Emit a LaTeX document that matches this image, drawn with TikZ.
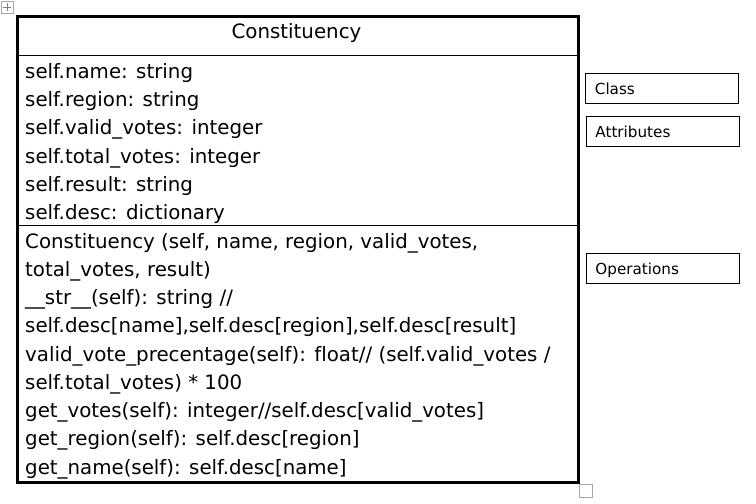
\documentclass[tikz,border=0pt]{standalone}
\usepackage{fontspec}
\setmainfont[Ligatures=NoCommon]{DejaVu Sans}
\begin{document}
\begin{tikzpicture}[x=1pt,y=-1pt,
  txt/.style={anchor=west,inner sep=0pt,font=\fontsize{19.8}{24}\selectfont},
  sidebox/.style={draw,line width=0.8pt,minimum width=153pt,minimum height=30pt,anchor=north west,inner sep=0pt,text width=143pt,text height=14.5pt,text depth=3pt,align=left,font=\fontsize{15.2}{17}\selectfont},
  thin/.style={line width=1pt},
  thick/.style={line width=3pt}]
\useasboundingbox (0,0) rectangle (756,504);
% handle icon
\node[draw=gray!70,line width=0.6pt,minimum size=12pt,inner sep=0pt,anchor=north west] (handle) at (1,1) {};
\draw[gray,line width=0.5pt] (handle.center) ++(-4,0) -- ++(8,0) (handle.center) ++(0,-4) -- ++(0,8);
% outer class box
\node[draw,thick,anchor=north west,minimum width=561pt,minimum height=466pt,inner sep=0pt] (cls) at (16,15) {};
\coordinate (d1l) at (16,55); \coordinate (d1r) at (577,55);
\coordinate (d2l) at (16,225.5); \coordinate (d2r) at (577,225.5);
\draw[thin] (d1l) -- (d1r);
\draw[thin] (d2l) -- (d2r);
\coordinate (mk1) at (579.5,228); \coordinate (mk2) at (579.5,246);
\draw[line width=0.8pt] (mk1) -- (mk2);
% resize handle
\node[draw=gray!70,line width=0.8pt,minimum size=13pt,inner sep=0pt,anchor=north west] (rs) at (579,484) {};
% header
\node[txt,anchor=center] (hdr) at (296.5,33) {Constituency};
% attributes
\node[txt] (a1) at (25,73) {self.name: string};
\node[txt] (a2) at (25,101) {self.region: string};
\node[txt] (a3) at (25,129.5) {self.valid\_votes: integer};
\node[txt] (a4) at (25,158) {self.total\_votes: integer};
\node[txt] (a5) at (25,186) {self.result: string};
\node[txt] (a6) at (25,214) {self.desc: dictionary};
% operations
\node[txt] (o1) at (25,243) {Constituency (self, name, region, valid\_votes,};
\node[txt] (o2) at (25,271.5) {total\_votes, result)};
\node[txt] (o3) at (25,299.5) {\_\_str\_\_(self): string //};
\node[txt] (o4) at (25,327.5) {self.desc[name],self.desc[region],self.desc[result]};
\node[txt] (o5) at (25,356) {valid\_vote\_precentage(self): float// (self.valid\_votes /};
\node[txt] (o6) at (25,384) {self.total\_votes) * 100};
\node[txt] (o7) at (25,412) {get\_votes(self): integer//self.desc[valid\_votes]};
\node[txt] (o8) at (25,440.5) {get\_region(self): self.desc[region]};
\node[txt] (o9) at (25,469) {get\_name(self): self.desc[name]};
% side legend boxes
\node[sidebox] (lc) at (585,73) {\hspace*{4.5pt}Class};
\node[sidebox] (la) at (586,116) {\hspace*{4pt}Attributes};
\node[sidebox] (lo) at (586,253) {\hspace*{4pt}Operations};
\end{tikzpicture}
\end{document}
